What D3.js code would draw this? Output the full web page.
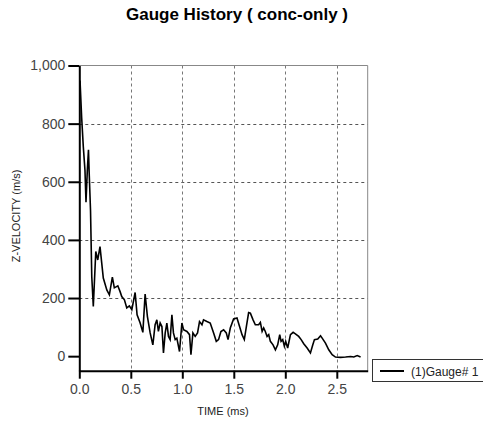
<!DOCTYPE html>
<html>
<head>
<meta charset="utf-8">
<script src="https://cdn.jsdelivr.net/npm/d3@7"></script>
<style>
body { margin: 0; background: #fff; }
svg { display: block; font-family: Arial, "Liberation Sans", sans-serif; }
</style>
</head>
<body>
<div class="svg-container"></div>
<script>
var title = "Gauge History ( conc-only )";
var xLabel = "TIME (ms)";
var yLabel = "Z-VELOCITY (m/s)";
var seriesName = "(1)Gauge# 1";

var xTicks = [0, 0.5, 1.0, 1.5, 2.0, 2.5];
var yTicks = [0, 200, 400, 600, 800, 1000];

// gauge time (ms) and z-velocity (m/s)
var time = [0.007, 0.023, 0.039, 0.055, 0.065, 0.078, 0.089, 0.097, 0.109, 0.121,
    0.136, 0.160, 0.179, 0.201, 0.233, 0.267, 0.292, 0.321, 0.340, 0.374,
    0.396, 0.412, 0.438, 0.461, 0.486, 0.510, 0.542, 0.561, 0.590, 0.617,
    0.639, 0.661, 0.688, 0.714, 0.736, 0.753, 0.768, 0.785, 0.802, 0.817,
    0.834, 0.850, 0.866, 0.882, 0.899, 0.914, 0.931, 0.947, 0.973, 0.996,
    1.012, 1.045, 1.070, 1.084, 1.103, 1.125, 1.148, 1.167, 1.191, 1.206,
    1.239, 1.271, 1.304, 1.330, 1.352, 1.375, 1.401, 1.427, 1.444, 1.466,
    1.498, 1.531, 1.556, 1.580, 1.602, 1.622, 1.644, 1.661, 1.687, 1.709,
    1.741, 1.758, 1.775, 1.790, 1.806, 1.823, 1.839, 1.855, 1.881, 1.904,
    1.926, 1.946, 1.959, 1.975, 1.991, 2.004, 2.023, 2.050, 2.076, 2.098,
    2.130, 2.154, 2.179, 2.212, 2.244, 2.267, 2.283, 2.315, 2.342, 2.358,
    2.390, 2.422, 2.455, 2.487, 2.536, 2.585, 2.634, 2.665, 2.698, 2.731];
var zVelocity = [948, 820, 720, 640, 530, 640, 710, 620, 500, 274,
    171, 360, 331, 377, 269, 228, 211, 272, 235, 242,
    222, 205, 194, 166, 173, 160, 219, 142, 115, 82,
    214, 137, 80, 39, 108, 125, 85, 114, 102, 11,
    80, 114, 68, 57, 142, 80, 57, 62, 16, 114,
    91, 85, 74, 5, 80, 68, 80, 119, 108, 125,
    119, 114, 80, 51, 57, 85, 91, 80, 57, 97,
    128, 131, 102, 74, 57, 102, 150, 148, 125, 108,
    108, 116, 85, 97, 85, 68, 74, 51, 39, 22,
    39, 74, 51, 57, 34, 51, 28, 74, 82, 77,
    68, 57, 43, 28, 11, 39, 57, 59, 70, 62,
    45, 22, 5, -3, -4, -3, -1, -3, 2, -3];

var data = time.map((t, i) => ({t: t, v: zVelocity[i]}));

var width = 483, height = 421;

var svg = d3.select(".svg-container")
    .append("svg")
    .attr("width", width)
    .attr("height", height);

var plot = {left: 79.3, right: 367.7, top: 65.5, bottom: 370.7};

var xScale = d3.scaleLinear()
    .domain([0, 2.8])
    .range([plot.left, plot.right]);

var yScale = d3.scaleLinear()
    .domain([-50, 1000])
    .range([plot.bottom, plot.top]);

// title
svg.append("text")
    .attr("x", 237)
    .attr("y", 19.5)
    .attr("text-anchor", "middle")
    .style("font-size", "17px")
    .style("font-weight", "bold")
    .text(title);

// gridlines
svg.append("g")
    .selectAll("line")
    .data(yTicks.filter(d => d > 0 && d < 1000))
    .enter().append("line")
    .attr("x1", plot.left)
    .attr("x2", plot.right)
    .attr("y1", d => Math.round(yScale(d)) + 0.5)
    .attr("y2", d => Math.round(yScale(d)) + 0.5)
    .attr("stroke", "#555")
    .attr("stroke-dasharray", "3,3");

svg.append("g")
    .selectAll("line")
    .data(xTicks.filter(d => d > 0))
    .enter().append("line")
    .attr("x1", d => Math.round(xScale(d)) + 0.5)
    .attr("x2", d => Math.round(xScale(d)) + 0.5)
    .attr("y1", plot.top)
    .attr("y2", plot.bottom)
    .attr("stroke", "#777")
    .attr("stroke-dasharray", "3,3");

// top + right frame
svg.append("path")
    .attr("d", `M${plot.left},${plot.top}H${plot.right}V${plot.bottom}`)
    .attr("fill", "none")
    .attr("stroke", "#888")
    .attr("stroke-width", 1);

// data line
var line = d3.line()
    .x(d => xScale(d.t))
    .y(d => yScale(d.v));

svg.append("path")
    .datum(data)
    .attr("d", line)
    .attr("fill", "none")
    .attr("stroke", "#000")
    .attr("stroke-width", 1.6);

// axes
var xAxis = d3.axisBottom(xScale)
    .tickValues(xTicks)
    .tickFormat(d3.format(".1f"))
    .tickSize(8)
    .tickPadding(5)
    .tickSizeOuter(0);

var yAxis = d3.axisLeft(yScale)
    .tickValues(yTicks)
    .tickFormat(d3.format(","))
    .tickSize(11)
    .tickPadding(3)
    .tickSizeOuter(0);

var gx = svg.append("g")
    .attr("transform", `translate(0, ${plot.bottom})`)
    .call(xAxis);

var gy = svg.append("g")
    .attr("transform", `translate(${plot.left}, 0)`)
    .call(yAxis);

[gx, gy].forEach(g => {
    g.select(".domain").attr("stroke", "#000").attr("stroke-width", 2);
    g.selectAll(".tick line").attr("stroke", "#000").attr("stroke-width", 2);
    g.selectAll(".tick text")
        .attr("fill", "#444")
        .style("font-size", "14px")
        .style("font-family", "Arial, 'Liberation Sans', sans-serif");
});

// axis titles
svg.append("text")
    .attr("x", 223)
    .attr("y", 415)
    .attr("text-anchor", "middle")
    .style("font-size", "11px")
    .attr("fill", "#222")
    .text(xLabel);

svg.append("text")
    .attr("transform", "translate(20, 216) rotate(-90)")
    .attr("text-anchor", "middle")
    .style("font-size", "11px")
    .attr("fill", "#222")
    .text(yLabel);

// legend
var legend = svg.append("g");

legend.append("rect")
    .attr("x", 372.5)
    .attr("y", 359.5)
    .attr("width", 115)
    .attr("height", 22)
    .attr("fill", "#fff")
    .attr("stroke", "#333");

legend.append("line")
    .attr("x1", 380)
    .attr("x2", 404)
    .attr("y1", 371)
    .attr("y2", 371)
    .attr("stroke", "#000")
    .attr("stroke-width", 2);

legend.append("text")
    .attr("x", 411)
    .attr("y", 375.5)
    .style("font-size", "12px")
    .attr("fill", "#222")
    .text(seriesName);
</script>
</body>
</html>
